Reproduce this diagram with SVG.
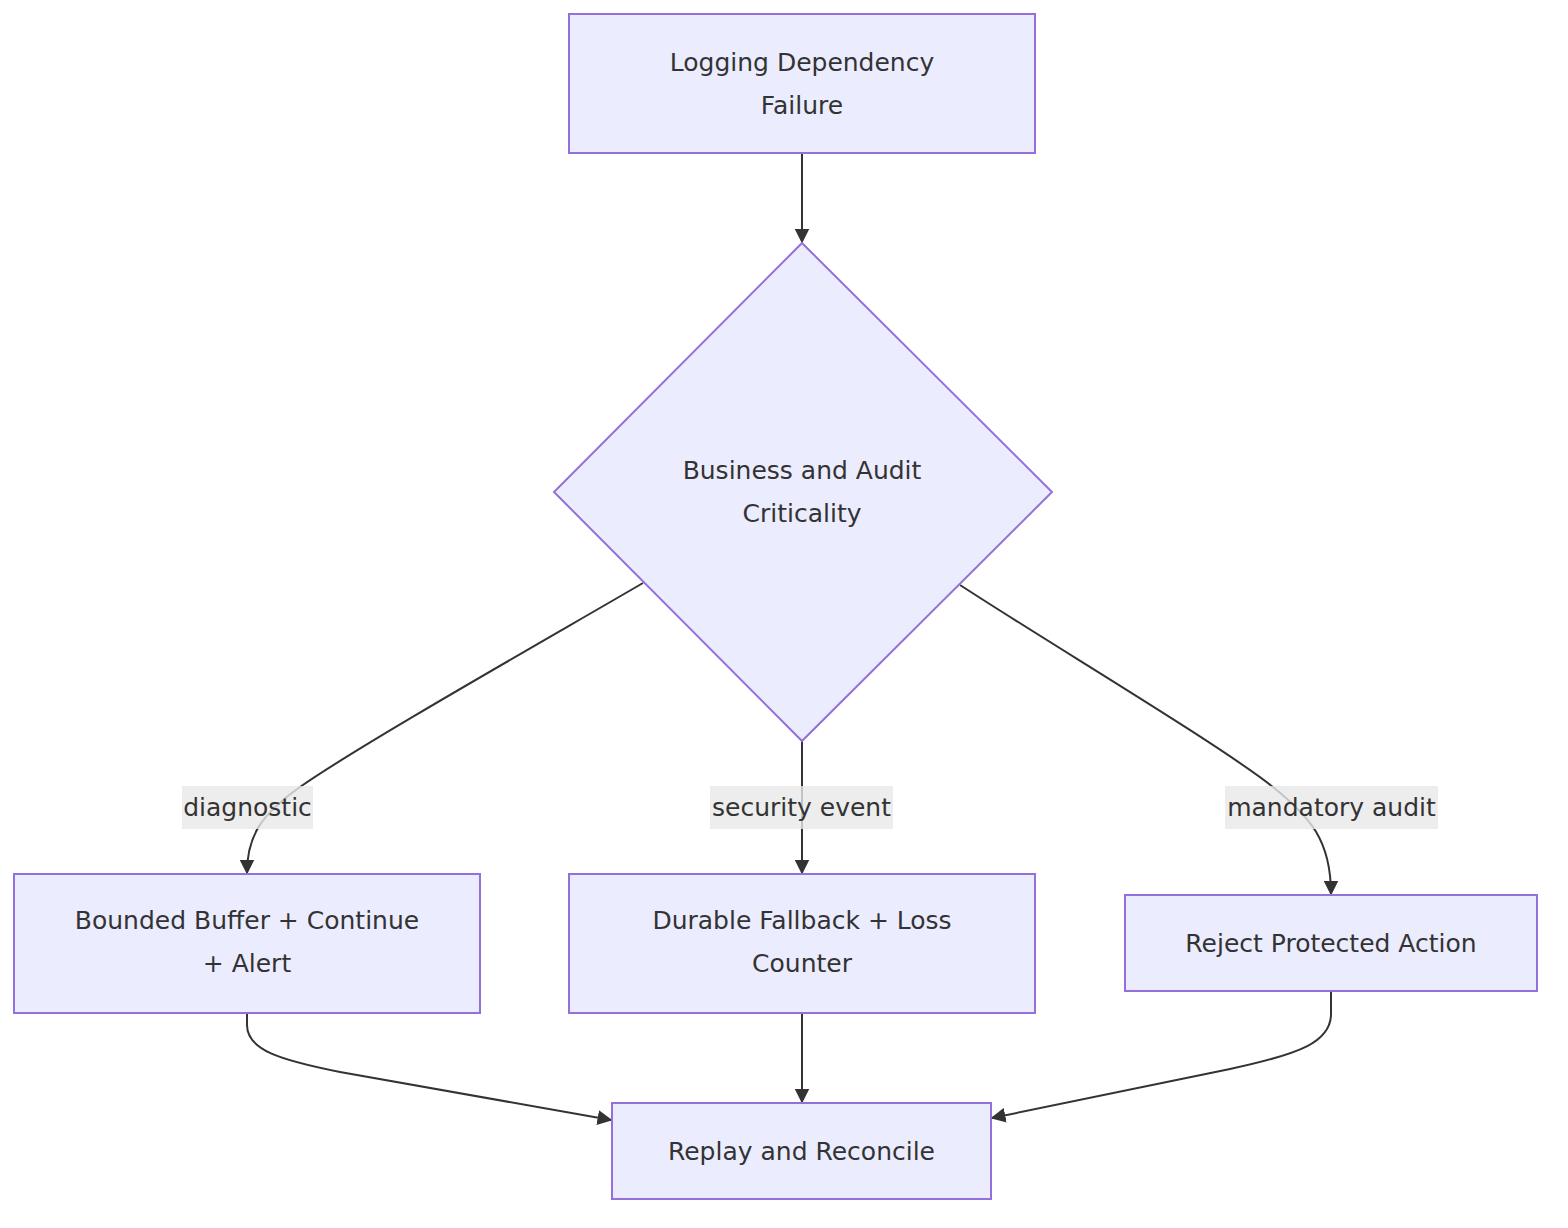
<svg xmlns="http://www.w3.org/2000/svg" width="1568" height="1228" viewBox="0 0 1568 1228">
<style>
.node rect, .node polygon { fill: #ECECFF; stroke: #9370DB; stroke-width: 2; }
.node text, .elabel text { font-family: "DejaVu Sans", "Liberation Sans", sans-serif; font-size: 25px; fill: #333333; text-anchor: middle; }
.edge { fill: none; stroke: #333333; stroke-width: 2; }
.elabel rect { fill: #E8E8E8; fill-opacity: 0.8; stroke: none; }
</style>
<defs>
<marker id="arrow" viewBox="0 0 10 10" refX="9" refY="5" markerUnits="userSpaceOnUse" markerWidth="15" markerHeight="15" orient="auto">
<path d="M0,0 L10,5 L0,10 z" fill="#333333"/>
</marker>
</defs>
<rect width="1568" height="1228" fill="#ffffff"/>
<g id="connectors">
<path class="edge" d="M802,153 L802,242" marker-end="url(#arrow)"/>
<path class="edge" d="M643,583 C540,643 360,745 300,787 C262,814 247,835 247,873" marker-end="url(#arrow)"/>
<path class="edge" d="M802,741 L802,873" marker-end="url(#arrow)"/>
<path class="edge" d="M960,585 C1060,650 1220,745 1273,787 C1310,817 1331,840 1331,894" marker-end="url(#arrow)"/>
<path class="edge" d="M247,1013 L247,1025 C247,1050 280,1060 340,1072 L611,1120" marker-end="url(#arrow)"/>
<path class="edge" d="M802,1013 L802,1102" marker-end="url(#arrow)"/>
<path class="edge" d="M1331,991 L1331,1014 C1331,1042 1300,1054 1230,1069 L992,1118" marker-end="url(#arrow)"/>
</g>
<g id="edge-labels">
<g class="elabel" id="label-diagnostic"><rect x="182" y="786" width="131" height="43"/><text x="247.5" y="816">diagnostic</text></g>
<g class="elabel" id="label-security"><rect x="710" y="786" width="183" height="43"/><text x="801.5" y="816">security event</text></g>
<g class="elabel" id="label-mandatory"><rect x="1225" y="786" width="213" height="43"/><text x="1331.5" y="816">mandatory audit</text></g>
</g>
<g class="node" id="node-failure">
<rect x="569" y="14" width="466" height="139"/>
<text x="802" y="71">Logging Dependency</text>
<text x="802" y="114">Failure</text>
</g>
<g class="node" id="node-criticality">
<polygon points="802,243 1052,492 802,741 554,492"/>
<text x="802" y="479">Business and Audit</text>
<text x="802" y="522">Criticality</text>
</g>
<g class="node" id="node-buffer">
<rect x="14" y="874" width="466" height="139"/>
<text x="247" y="929">Bounded Buffer + Continue</text>
<text x="247" y="972">+ Alert</text>
</g>
<g class="node" id="node-fallback">
<rect x="569" y="874" width="466" height="139"/>
<text x="802" y="929">Durable Fallback + Loss</text>
<text x="802" y="972">Counter</text>
</g>
<g class="node" id="node-reject">
<rect x="1125" y="895" width="412" height="96"/>
<text x="1331" y="952">Reject Protected Action</text>
</g>
<g class="node" id="node-replay">
<rect x="612" y="1103" width="379" height="96"/>
<text x="801.5" y="1160">Replay and Reconcile</text>
</g>
</svg>
